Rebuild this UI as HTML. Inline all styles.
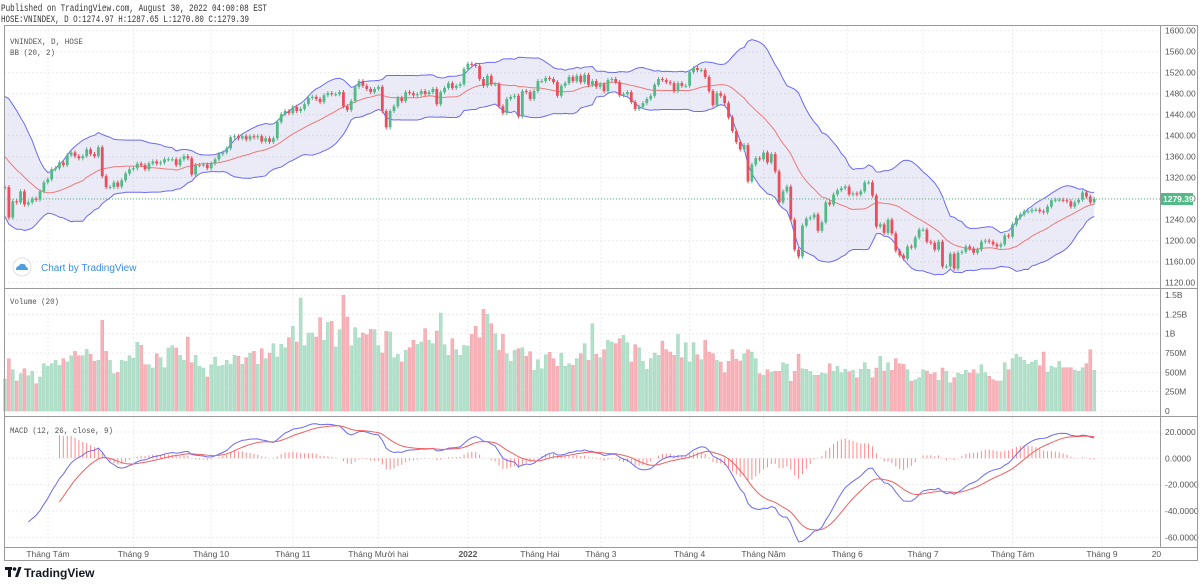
<!DOCTYPE html>
<html><head><meta charset="utf-8"><style>
html,body{margin:0;padding:0;background:#fff;}
svg{display:block;font-family:"Liberation Sans",sans-serif;}
</style></head><body>
<svg id="chart" width="1200" height="584" viewBox="0 0 1200 584" xmlns="http://www.w3.org/2000/svg">
<text x="1" y="11" font-size="10" fill="#333" font-family="Liberation Mono, monospace" textLength="266" lengthAdjust="spacingAndGlyphs">Published on TradingView.com, August 30, 2022 04:00:08 EST</text>
<text x="1" y="22" font-size="10" fill="#333" font-family="Liberation Mono, monospace" textLength="248" lengthAdjust="spacingAndGlyphs">HOSE:VNINDEX, D O:1274.97 H:1287.65 L:1270.80 C:1279.39</text>
<g id="grid"></g>
<g id="price"></g>
<g id="vol"></g>
<g id="macd"></g>
<g id="axes"></g>
<rect x="4.5" y="25.5" width="1193" height="535" fill="none" stroke="#9a9a9a"/>
<line x1="1160.5" y1="25" x2="1160.5" y2="548" stroke="#9a9a9a"/>
<line x1="4" y1="288.5" x2="1197" y2="288.5" stroke="#9a9a9a"/>
<line x1="4" y1="416.5" x2="1197" y2="416.5" stroke="#9a9a9a"/>
<line x1="4" y1="547.5" x2="1197" y2="547.5" stroke="#9a9a9a"/>
<text x="10" y="44" font-size="8.5" fill="#555" font-family="Liberation Mono, monospace" textLength="73" lengthAdjust="spacingAndGlyphs">VNINDEX, D, HOSE</text>
<text x="10" y="55" font-size="8.5" fill="#555" font-family="Liberation Mono, monospace" textLength="45" lengthAdjust="spacingAndGlyphs">BB (20, 2)</text>
<text x="10" y="304" font-size="8.5" fill="#555" font-family="Liberation Mono, monospace" textLength="49" lengthAdjust="spacingAndGlyphs">Volume (20)</text>
<text x="10" y="433" font-size="8.5" fill="#555" font-family="Liberation Mono, monospace" textLength="103" lengthAdjust="spacingAndGlyphs">MACD (12, 26, close, 9)</text>
<g>
<circle cx="22" cy="267" r="9" fill="#fff" stroke="#e0e0e0"/>
<path d="M16 270 q0-4 3-4 q1-3 4-2 q3 0 3 3 q2 0 2 3 z" fill="#4a9fe0"/>
<text x="41" y="271" font-size="10" fill="#3a8fd8">Chart by TradingView</text>
</g>
<g>
<rect x="5" y="567" width="7" height="3" fill="#131722"/><rect x="8" y="567" width="3" height="10" fill="#131722"/>
<circle cx="14.5" cy="569" r="1.8" fill="#131722"/><path d="M15 577 l3.5-10 h3 l-3.5 10 z" fill="#131722"/>
<text x="24" y="577" font-size="12" font-weight="bold" fill="#131722">TradingView</text>
</g>
</svg>
<script>
const preCloses=[1420,1435,1440,1430,1425,1415,1420,1405,1410,1390,1370,1350,1330,1310,1300,1290,1300,1305,1280,1300];
const closes=[1302,1244,1275,1273,1294,1269,1273,1280,1278,1294,
1311,1317,1336,1338,1349,1344,1363,1368,1361,1357,
1361,1374,1365,1361,1378,1323,1302,1302,1311,1303,
1315,1328,1336,1338,1347,1344,1336,1347,1351,1347,
1349,1355,1355,1355,1344,1355,1361,1357,1326,1344,
1344,1345,1338,1347,1355,1365,1368,1376,1397,1399,
1395,1399,1393,1399,1397,1399,1389,1395,1388,1395,
1426,1441,1447,1443,1455,1447,1451,1460,1472,1474,
1470,1464,1477,1481,1479,1479,1483,1456,1449,1466,
1493,1504,1495,1489,1483,1489,1493,1447,1416,1447,
1456,1472,1466,1483,1481,1477,1479,1485,1479,1483,
1489,1460,1483,1491,1500,1491,1495,1498,1527,1537,
1535,1533,1508,1495,1514,1498,1498,1456,1443,1470,
1474,1476,1437,1485,1483,1470,1485,1504,1504,1510,
1508,1502,1476,1495,1500,1512,1504,1514,1502,1516,
1497,1504,1493,1498,1485,1506,1508,1502,1477,1479,
1483,1464,1451,1455,1462,1470,1476,1497,1508,1506,
1502,1500,1485,1500,1495,1495,1521,1529,1525,1525,
1512,1485,1458,1481,1476,1462,1435,1409,1388,1374,
1382,1313,1345,1357,1355,1368,1349,1365,1332,1273,
1294,1303,1240,1183,1170,1229,1242,
1244,1250,1219,1235,1273,1269,1288,1296,1300,1303,
1288,1290,1288,1294,1311,1311,1286,1227,1231,1215,
1240,1214,1181,1172,1166,1189,1187,1206,1221,1221,
1198,1196,1183,1198,1151,1151,1175,1147,1177,1179,
1189,1185,1177,1183,1198,1200,1198,1193,1189,1193,
1210,1208,1231,1244,1250,1256,1256,1259,1259,1256,
1254,1265,1277,1278,1278,1277,1275,1265,1273,1278,
1292,1284,1273,1279.39];
const firstOpen=1300;
const volumes=[414,677,534,388,483,547,457,513,353,440,
612,578,612,655,590,677,634,715,771,715,
715,797,733,642,655,1172,771,655,483,500,
655,642,715,681,888,849,599,599,556,741,
690,560,815,845,815,720,655,957,625,720,
578,556,440,599,698,578,590,655,603,720,
707,603,690,750,771,603,806,677,750,871,
698,862,819,948,1095,892,1461,845,1009,1009,
957,1207,914,1146,1159,828,1052,1496,1215,845,
1078,948,1009,987,1056,1052,845,750,1030,1022,
690,733,
634,784,819,914,862,892,1065,914,871,1034,
1267,858,720,935,793,720,849,840,991,1095,
948,1315,1250,1129,1000,784,991,741,642,784,
806,819,707,767,526,664,547,728,759,677,
578,750,578,612,590,677,741,871,655,1129,
733,690,793,914,892,871,935,978,884,634,
858,819,642,539,677,750,720,905,793,763,
720,991,690,884,634,884,728,664,914,763,
741,655,634,496,642,793,668,647,741,793,
763,677,483,
461,534,504,513,513,625,603,384,513,733,
547,539,513,461,461,491,483,612,513,578,
496,539,509,526,431,539,625,539,431,556,
707,517,625,526,677,612,603,534,384,405,
431,534,517,474,496,397,556,513,366,431,
491,474,526,491,534,483,599,496,448,
405,388,388,625,534,677,733,698,655,603,
634,655,586,763,504,578,560,642,560,560,
560,526,513,560,612,793,526];
const priceTicks=[1600,1560,1520,1480,1440,1400,1360,1320,1280,1240,1200,1160,1120];
const volTicks=[1500,1250,1000,750,500,250,0];
const volTickLabels=["1.5B","1.25B","1B","750M","500M","250M","0"];
const macdTicks=[20,0,-20,-40,-60];
const macdTickLabels=["20.0000","0.0000","-20.0000","-40.0000","-60.0000"];
const timeLabels=["Tháng Tám","Tháng 9","Tháng 10","Tháng 11","Tháng Mười hai","2022","Tháng Hai","Tháng 3","Tháng 4","Tháng Năm","Tháng 6","Tháng 7","Tháng Tám","Tháng 9","20"];
const timeLabelBars=[11.05,33,53,74,96,119,137.5,153.2,176,195,216.5,236,259,282,296];

const NS="http://www.w3.org/2000/svg";
const X0=5,STEP=3.89;
const xAt=i=>X0+i*STEP;
const yP=p=>30.7+(1600-p)*0.525;
const yV=v=>411-v*0.0773;
const yM=m=>458.3-m*1.317;
function mk(parent,tag,attrs){const e=document.createElementNS(NS,tag);for(const k in attrs)e.setAttribute(k,attrs[k]);parent.appendChild(e);return e;}
const G=id=>document.getElementById(id);
const grid=G('grid'),price=G('price'),vol=G('vol'),macd=G('macd'),axes=G('axes');
const GRIDC="#ececec";
priceTicks.forEach(p=>{
  const l=mk(grid,'line',{x1:4,x2:1160,y1:yP(p),y2:yP(p),stroke:GRIDC,'stroke-dasharray':'2,2'});
  
  const t=mk(axes,'text',{x:1165,y:yP(p)+3,'font-size':8.5,fill:'#555'});t.textContent=p.toFixed(2);
  
});
volTicks.forEach((v,k)=>{
  const l=mk(grid,'line',{x1:4,x2:1160,y1:yV(v),y2:yV(v),stroke:GRIDC,'stroke-dasharray':'2,2'});
  
  const t=mk(axes,'text',{x:1165,y:yV(v)+3,'font-size':8.5,fill:'#555'});t.textContent=volTickLabels[k];
  
});
macdTicks.forEach((m,k)=>{
  const l=mk(grid,'line',{x1:4,x2:1160,y1:yM(m),y2:yM(m),stroke:GRIDC,'stroke-dasharray':'2,2'});
  
  const t=mk(axes,'text',{x:1165,y:yM(m)+3,'font-size':8.5,fill:'#555'});t.textContent=macdTickLabels[k];
  
});
timeLabels.forEach((s,k)=>{
  const x=xAt(timeLabelBars[k]);
  if(k<timeLabels.length-1){const l=mk(grid,'line',{x1:x,x2:x,y1:25,y2:547,stroke:GRIDC,'stroke-dasharray':'2,2'});
  }
  const t=mk(axes,'text',{x:x,y:557,'font-size':8.5,fill:'#555','text-anchor':'middle','font-weight':s==='2022'?'bold':'normal'});t.textContent=s;
  
});
const all=preCloses.concat(closes),P=preCloses.length;
const up=[],mid=[],lo=[];
for(let i=0;i<closes.length;i++){const j=i+P;const w=all.slice(j-19,j+1);const m=w.reduce((a,b)=>a+b,0)/20;
  const sd=Math.sqrt(w.reduce((a,b)=>a+(b-m)*(b-m),0)/20);mid.push(m);up.push(m+2*sd);lo.push(m-2*sd);}
const ptsU=up.map((v,i)=>xAt(i)+','+yP(v)),ptsL=lo.map((v,i)=>xAt(i)+','+yP(v));
const band=mk(price,'polygon',{points:ptsU.concat(ptsL.slice().reverse()).join(' '),fill:'rgba(110,110,200,0.14)'});

const bu=mk(price,'polyline',{points:ptsU.join(' '),fill:'none',stroke:'#6b6bf2','stroke-width':1});

const bl=mk(price,'polyline',{points:ptsL.join(' '),fill:'none',stroke:'#6b6bf2','stroke-width':1});

const bm=mk(price,'polyline',{points:mid.map((v,i)=>xAt(i)+','+yP(v)).join(' '),fill:'none',stroke:'#ee7a7a','stroke-width':1});

const UP="#53b987",DN="#eb4d5c";
closes.forEach((c,i)=>{
  const o=i===0?firstOpen:closes[i-1];const isUp=c>=o;const col=isUp?UP:DN;const x=xAt(i);
  const top=Math.max(o,c),bot=Math.min(o,c);
  const w=mk(price,'line',{x1:x,x2:x,y1:yP(top+4),y2:yP(bot-4),stroke:col,'stroke-width':1});
  
  const h=Math.max(1,yP(bot)-yP(top));
  const b=mk(price,'rect',{x:x-1.4,y:yP(top),width:2.8,height:h,fill:col});
  
  const v=volumes[i];
  const vb=mk(vol,'rect',{x:x-1.5,y:yV(v),width:3,height:yV(0)-yV(v),fill:isUp?'#b3e0cb':'#f7b3b9',stroke:isUp?'#9fd6bc':'#f29ea6','stroke-width':0.5});
  
});
const last=closes[closes.length-1];
const pl=mk(price,'line',{x1:4,x2:1160,y1:yP(last),y2:yP(last),stroke:UP,'stroke-dasharray':'1,2'});

const pr=mk(axes,'rect',{x:1161,y:yP(last)-6,width:32,height:12,fill:UP});

const pt=mk(axes,'text',{x:1163,y:yP(last)+3,'font-size':8.5,fill:'#fff','font-weight':'bold'});pt.textContent=last.toFixed(2);

function ema(arr,n){const out=new Array(arr.length).fill(null);let s=0,cnt=0,prev=null;const k=2/(n+1);
  for(let i=0;i<arr.length;i++){if(arr[i]===null)continue;
    if(prev===null){s+=arr[i];cnt++;if(cnt===n){prev=s/n;out[i]=prev;}}else{prev=arr[i]*k+prev*(1-k);out[i]=prev;}}
  return out;}
const e12=ema(all,12),e26=ema(all,26);
const macdAll=all.map((_,i)=>(e12[i]!==null&&e26[i]!==null)?e12[i]-e26[i]:null);
const sigAll=ema(macdAll,9);
const macdPts=[],sigPts=[];
for(let i=0;i<closes.length;i++){const j=i+P;const m=macdAll[j],s=sigAll[j];
  if(m!==null&&i>=6)macdPts.push(xAt(i)+','+yM(m));
  if(s!==null&&i>=14){sigPts.push(xAt(i)+','+yM(s));
    const hl=mk(macd,'line',{x1:xAt(i),x2:xAt(i),y1:yM(0),y2:yM(m-s),stroke:'#ff8a8a','stroke-width':1});
    }
}
const ml=mk(macd,'polyline',{points:macdPts.join(' '),fill:'none',stroke:'#6b6bf2','stroke-width':1});

const sl=mk(macd,'polyline',{points:sigPts.join(' '),fill:'none',stroke:'#f06060','stroke-width':1});

</script>
</body></html>
